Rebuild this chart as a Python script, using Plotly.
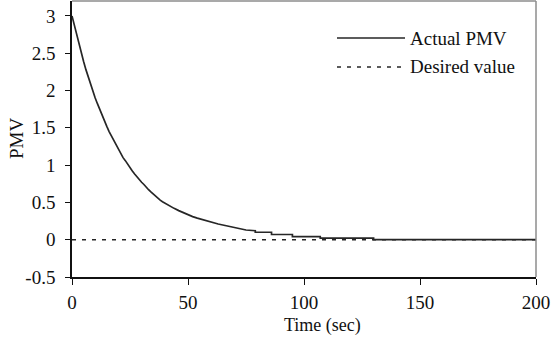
import plotly.graph_objects as go

# Simulated response of the controlled PMV; the tail holds quantised steps
time_s = [0, 1, 2, 3, 4, 5, 6, 7, 8, 9, 10, 11, 12, 13, 14, 15, 16, 17, 18, 19,
          20, 21, 22, 23, 24, 25, 26, 27, 28, 29, 30, 31, 32, 33, 34, 35, 36, 37,
          38, 39, 40, 42, 44, 46, 48, 50, 52, 54, 56, 58, 60, 63, 66, 69, 72, 75,
          79, 79, 86, 86, 95, 95, 107, 107, 130, 130, 200]
actual_pmv = [3.00, 2.87, 2.74, 2.62, 2.50, 2.39, 2.28, 2.18, 2.08, 1.99, 1.90,
              1.82, 1.74, 1.66, 1.59, 1.52, 1.45, 1.39, 1.32, 1.27, 1.21, 1.16,
              1.10, 1.06, 1.01, 0.97, 0.92, 0.88, 0.84, 0.80, 0.77, 0.74, 0.70,
              0.67, 0.64, 0.61, 0.58, 0.56, 0.53, 0.51, 0.49, 0.45, 0.42, 0.39,
              0.36, 0.33, 0.31, 0.29, 0.27, 0.25, 0.23, 0.21, 0.19, 0.17, 0.15,
              0.13, 0.12, 0.10, 0.10, 0.07, 0.07, 0.04, 0.04, 0.02, 0.02, 0.00,
              0.00]

desired_time = [0, 200]
desired_value = [0, 0]

y_ticks = [-0.5, 0, 0.5, 1, 1.5, 2, 2.5, 3]
y_tick_text = ["-0.5", "0", "0.5", "1", "1.5", "2", "2.5", "3"]
x_ticks = [0, 50, 100, 150, 200]

legend_names = ["Actual PMV", "Desired value"]

FONT = "Liberation Serif, Times New Roman, serif"
LINE = "#262626"
DASH = "4px,6px"

# plot-area geometry in pixels
L, R, T, B = 72, 536, 1, 277
W, H = R - L, B - T


def px(x):
    return (x - L) / W


def py(y):
    return 1 - (y - T) / H


fig = go.Figure()
fig.add_trace(go.Scatter(x=time_s, y=actual_pmv, mode="lines",
                         line=dict(color=LINE, width=1.7), name=legend_names[0],
                         showlegend=False))
fig.add_trace(go.Scatter(x=desired_time, y=desired_value, mode="lines",
                         line=dict(color=LINE, width=1.6, dash=DASH),
                         name=legend_names[1], showlegend=False))

# Legend drawn as line samples plus labels in the upper right corner
legend_rows = [(legend_names[0], "solid", 38), (legend_names[1], DASH, 67)]
for name, dash, ypix in legend_rows:
    fig.add_shape(type="line", xref="paper", yref="paper",
                  x0=px(337), x1=px(405), y0=py(ypix), y1=py(ypix),
                  line=dict(color=LINE, width=1.6, dash=dash))
    fig.add_annotation(text=name, xref="paper", yref="paper",
                       x=px(408), y=py(ypix), xanchor="left", yanchor="middle",
                       showarrow=False, font=dict(family=FONT, size=19, color="#111"))

# Axis titles
fig.add_annotation(text="Time (sec)", xref="paper", yref="paper",
                   x=px(322), y=py(325), xanchor="center", yanchor="middle",
                   showarrow=False, font=dict(family=FONT, size=18, color="#111"))
fig.add_annotation(text="PMV", xref="paper", yref="paper", textangle=-90,
                   x=px(16), y=py(139), xanchor="center", yanchor="middle",
                   showarrow=False, font=dict(family=FONT, size=19, color="#111"))

# Grey frame on the top and right of the plot area
fig.add_shape(type="line", xref="paper", yref="paper", x0=0, x1=1, y0=1, y1=1,
              line=dict(color="#8c8c8c", width=1.5))
fig.add_shape(type="line", xref="paper", yref="paper", x0=1, x1=1, y0=0, y1=1,
              line=dict(color="#8c8c8c", width=1.5))

fig.update_layout(
    width=551, height=343,
    margin=dict(l=L, r=551 - R, t=T, b=343 - B),
    paper_bgcolor="white", plot_bgcolor="white",
    font=dict(family=FONT, size=19, color="#111"),
    xaxis=dict(range=[0, 200], tickvals=x_ticks, ticks="outside", ticklen=6,
               tickwidth=1.3, tickcolor="#111", showline=True, linecolor="#111",
               linewidth=1.5, showgrid=False, zeroline=False,
               tickfont=dict(size=19), ticklabelstandoff=1),
    yaxis=dict(range=[-0.5, 3.2], tickvals=y_ticks, ticktext=y_tick_text,
               ticks="outside", ticklen=5, tickwidth=1.3, tickcolor="#111",
               showline=True, linecolor="#111", linewidth=1.5, showgrid=False,
               zeroline=False, tickfont=dict(size=19), ticklabelstandoff=6),
)

fig.write_html("out.html")
